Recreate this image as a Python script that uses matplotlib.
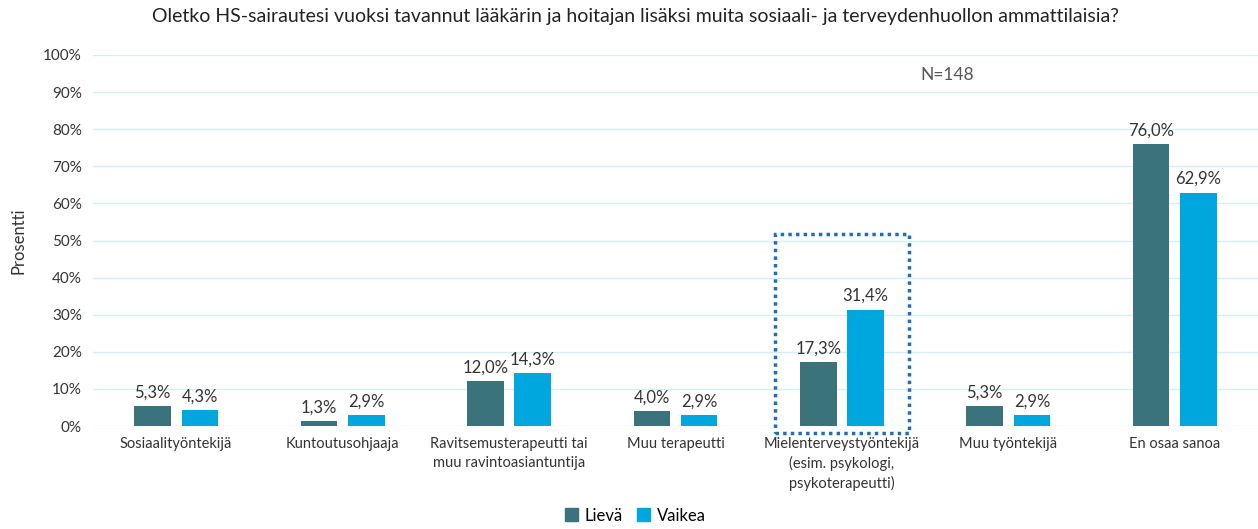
import numpy as np
import matplotlib.pyplot as plt
from matplotlib.patches import Rectangle, Patch

plt.rcParams['font.family'] = ['Lato', 'DejaVu Sans']

### data ###
categories = ['Sosiaalityöntekijä', 'Kuntoutusohjaaja',
              'Ravitsemusterapeutti tai\nmuu ravintoasiantuntija',
              'Muu terapeutti',
              'Mielenterveystyöntekijä\n(esim. psykologi,\npsykoterapeutti)',
              'Muu työntekijä', 'En osaa sanoa']
lieva = [5.3, 1.3, 12.0, 4.0, 17.3, 5.3, 76.0]
vaikea = [4.3, 2.9, 14.3, 2.9, 31.4, 2.9, 62.9]
series_names = ['Lievä', 'Vaikea']
colors = ['#3B737D', '#00A6DE']

### figure ###
fig = plt.figure(figsize=(12.58, 5.29), dpi=100)
ax = fig.add_axes([93/1258, 1-426/529, 1-93/1258, (426-55)/529])

x = np.arange(len(categories))
w = 0.22
off = 0.142
ax.bar(x - off, lieva, w, color=colors[0], zorder=3)
ax.bar(x + off, vaikea, w, color=colors[1], zorder=3)

for xi, v in zip(x, lieva):
    ax.text(xi - off, v + 1.5, f'{v:.1f}%'.replace('.', ','), ha='center', va='bottom',
            fontsize=12, color='#333333')
for xi, v in zip(x, vaikea):
    ax.text(xi + off, v + 1.5, f'{v:.1f}%'.replace('.', ','), ha='center', va='bottom',
            fontsize=12, color='#333333')

ax.set_xlim(-0.5, len(categories) - 0.5)
ax.set_ylim(0, 100)
ax.set_yticks(np.arange(0, 101, 10))
ax.set_yticklabels([f'{t}%' for t in range(0, 101, 10)], fontsize=11, color='#333333')
ax.set_xticks(x)
ax.set_xticklabels(categories, fontsize=10.5, color='#333333', linespacing=1.4)
ax.tick_params(length=0, pad=8)
ax.grid(axis='y', color='#D6EEFA', linewidth=1, zorder=0)
for s in ax.spines.values():
    s.set_visible(False)
ax.set_ylabel('Prosentti', fontsize=12, color='#333333', labelpad=12)

ax.set_title('Oletko HS-sairautesi vuoksi tavannut lääkärin ja hoitajan lisäksi muita sosiaali- ja terveydenhuollon ammattilaisia?',
             fontsize=14, color='#222222', pad=24, x=0.466)
ax.text(4.63, 94.6, 'N=148', ha='center', va='center', fontsize=12.5, color='#555555')

### highlight box ###
box = Rectangle((3.6, -1.9), 0.8, 53.6, fill=False, edgecolor='#1F6EB8',
                linestyle=(0, (1, 1.2)), linewidth=2.5, clip_on=False, zorder=4)
ax.add_patch(box)

handles = [Patch(color=c, label=n) for c, n in zip(colors, series_names)]
fig.legend(handles=handles, loc='lower center', bbox_to_anchor=(0.505, -0.018), ncol=2,
           frameon=False, fontsize=12, handlelength=0.8, handleheight=0.8,
           columnspacing=0.8, handletextpad=0.4)

plt.savefig('out.png', dpi=100)
